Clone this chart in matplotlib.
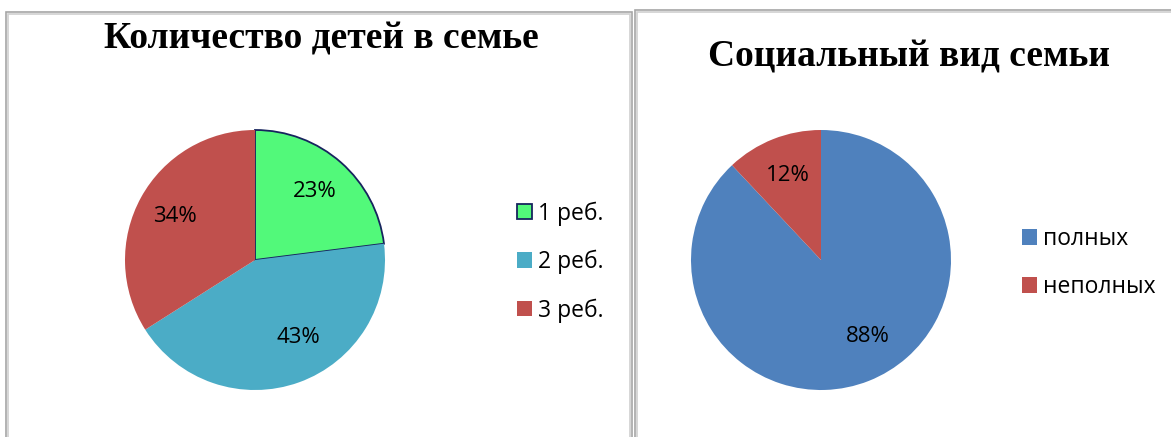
import matplotlib.pyplot as plt
from matplotlib.patches import Rectangle

W, H = 1171, 437

kids_labels = ["1 реб.", "2 реб.", "3 реб."]
kids_values = [23, 43, 34]
kids_colors = ["#52F97A", "#4BACC6", "#C0504D"]

social_labels = ["полных", "неполных"]
social_values = [88, 12]
social_colors = ["#4F81BD", "#C0504D"]

label_font = ["Open Sans", "DejaVu Sans"]


def px_axes(fig, cx, cy, r):
    # place an axes by pixel centre and radius (y measured from top)
    return fig.add_axes([(cx - r) / W, (H - cy - r) / H, 2 * r / W, 2 * r / H])


def draw_pie(ax, values, colors):
    wedges, _, autotexts = ax.pie(values, colors=colors, startangle=90,
                                  counterclock=False, autopct="%d%%", pctdistance=0.7,
                                  radius=1, textprops=dict(fontsize=16, family=label_font))
    # the label of the biggest slice sits a bit off the bisector, like Excel's best fit
    big = values.index(max(values))
    x, y = autotexts[big].get_position()
    autotexts[big].set_position((x + 0.1, y + 0.063))
    ax.set_xlim(-1, 1)
    ax.set_ylim(-1, 1)
    return wedges


fig = plt.figure(figsize=(W / 100, H / 100), dpi=100)

# panel frames
for x0, y0, x1 in [(6, 12, 632), (635, 10, 1175)]:
    for off, col in [(0, "#A6A6A6"), (2, "#D0D0D0")]:
        fig.add_artist(Rectangle(((x0 + off) / W, -0.1), (x1 - x0 - 2 * off) / W,
                                 (H - y0 - off) / H + 0.1, transform=fig.transFigure,
                                 fill=False, edgecolor=col, linewidth=1.2))

fig.text(321 / W, 1 - 39 / H, "Количество детей в семье", ha="center", va="center",
         fontsize=27, fontweight="bold", family="Liberation Serif")
fig.text(909 / W, 1 - 57 / H, "Социальный вид семьи", ha="center", va="center",
         fontsize=27, fontweight="bold", family="Liberation Serif")

legend_kw = dict(bbox_transform=fig.transFigure, frameon=False, loc="center left",
                 prop=dict(size=16.5, family=label_font), handlelength=0.65,
                 handleheight=0.65, handletextpad=0.3, labelspacing=1.05)

# left pie
ax1 = px_axes(fig, 255, 260, 130)
wedges1 = draw_pie(ax1, kids_values, kids_colors)
wedges1[0].set_edgecolor("#17245E")
wedges1[0].set_linewidth(1.3)
ax1.legend(wedges1, kids_labels, bbox_to_anchor=(496 / W, 1 - 262 / H), **legend_kw)

# right pie
ax2 = px_axes(fig, 821, 260, 130)
wedges2 = draw_pie(ax2, social_values, social_colors)
ax2.legend(wedges2, social_labels, bbox_to_anchor=(1001 / W, 1 - 263 / H), **legend_kw)

fig.savefig("out.png", dpi=100)
